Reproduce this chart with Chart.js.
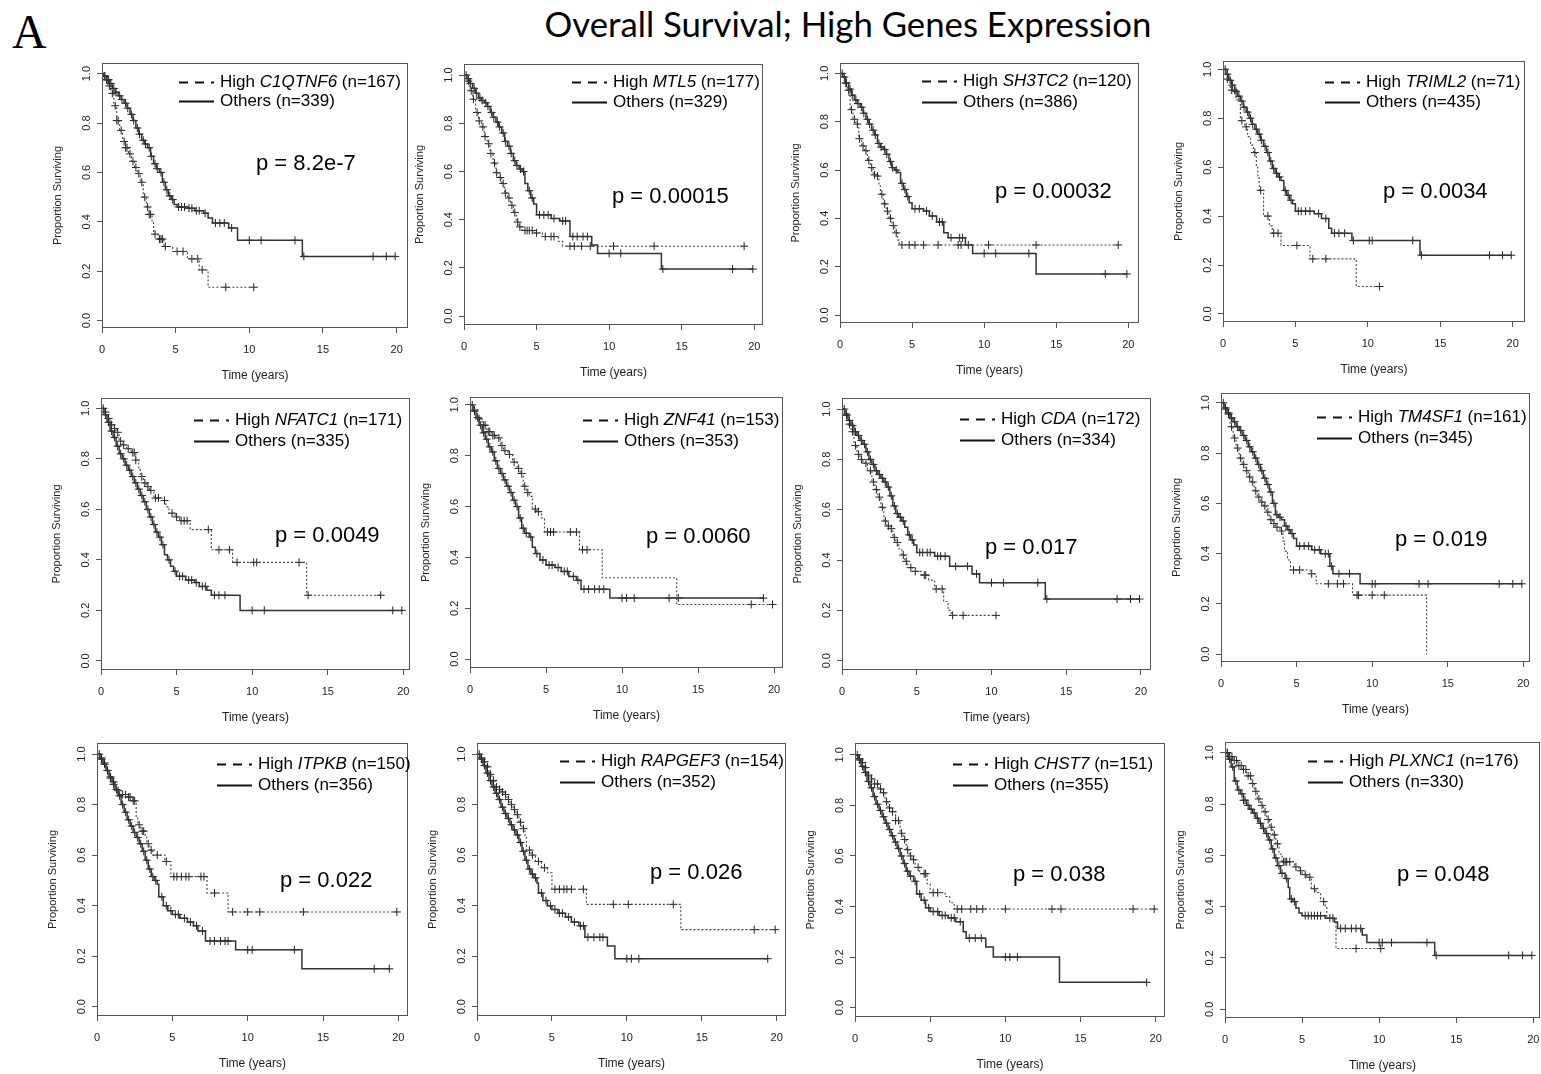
<!DOCTYPE html>
<html lang="en">
<head>
<meta charset="utf-8">
<title>Overall Survival; High Genes Expression</title>
<script src="https://cdn.jsdelivr.net/npm/chart.js@4.4.1/dist/chart.umd.min.js"></script>
<style>
  html, body { margin: 0; padding: 0; background: #fff; }
  body { position: relative; width: 1541px; height: 1074px; overflow: hidden; }
  #panelLetter { position: absolute; left: 12px; top: 8px; font-family: "Liberation Serif", "Times New Roman", serif; font-size: 48px; line-height: 48px; color: #000; }
  #mainTitle { position: absolute; left: 348px; width: 1000px; top: 4px; text-align: center; font-family: Lato, "Open Sans", sans-serif; font-size: 32px; line-height: 40px; color: #000; white-space: nowrap; }
  .panel { position: absolute; }
  .panel canvas { display: block; }
</style>
</head>
<body>
<div id="panelLetter">A</div>
<div id="mainTitle"><span id="titleText">Overall Survival; High Genes Expression</span></div>
<script>
// ---- Kaplan-Meier estimates: [time (years), survival after the event], censoring times ----
const genes    = ['C1QTNF6', 'MTL5', 'SH3TC2', 'TRIML2', 'NFATC1', 'ZNF41', 'CDA', 'TM4SF1', 'ITPKB', 'RAPGEF3', 'CHST7', 'PLXNC1'];
const nHigh    = [167, 177, 120, 71, 171, 153, 172, 161, 150, 154, 151, 176];
const nOthers  = [339, 329, 386, 435, 335, 353, 334, 345, 356, 352, 355, 330];
const pValues  = ['8.2e-7', '0.00015', '0.00032', '0.0034', '0.0049', '0.0060', '0.017', '0.019', '0.022', '0.026', '0.038', '0.048'];
const xTicks   = [0, 5, 10, 15, 20];
const yTicks   = [0, 0.2, 0.4, 0.6, 0.8, 1.0];

const c1qtnf6HighEvents = [[0.2,.975],[0.4,.95],[0.6,.92],[0.8,.87],[1.0,.81],[1.2,.77],[1.4,.725],[1.6,.70],[1.8,.675],[2.0,.645],[2.2,.62],[2.4,.595],[2.6,.56],[2.8,.50],[3.0,.46],[3.2,.43],[3.4,.40],[3.5,.35],[3.8,.33],[4.2,.30],[4.8,.28],[5.8,.25],[6.6,.205],[7.2,.135]];
const c1qtnf6HighCens   = [0.3,0.5,0.7,0.9,1.0,1.1,1.3,1.5,1.6,1.7,1.9,2.1,2.3,2.5,2.7,2.9,3.1,3.2,3.3,3.6,3.9,4.0,4.1,4.3,5.1,5.5,6.1,6.5,6.8,8.4,10.3];
const c1qtnf6OthEvents  = [[0.1,.99],[0.3,.975],[0.5,.96],[0.7,.94],[0.9,.925],[1.1,.91],[1.3,.895],[1.5,.88],[1.7,.86],[1.9,.835],[2.1,.81],[2.3,.78],[2.5,.755],[2.7,.73],[2.9,.715],[3.1,.70],[3.3,.665],[3.5,.635],[3.7,.615],[3.9,.60],[4.1,.56],[4.3,.53],[4.5,.505],[4.7,.49],[4.9,.47],[5.1,.46],[5.8,.455],[6.3,.445],[6.9,.435],[7.2,.415],[7.5,.395],[8.6,.375],[9.2,.325],[13.6,.26]];
const c1qtnf6OthCens    = [0.15,0.2,0.35,0.45,0.6,0.8,0.95,1.2,1.35,1.6,1.75,2.0,2.15,2.4,2.55,2.8,2.95,3.2,3.35,3.6,3.75,4.0,4.2,4.4,4.6,4.8,5.2,5.4,5.6,5.9,6.1,6.4,6.6,7.0,7.7,8.0,8.3,8.8,10.0,10.8,13.1,13.7,18.4,19.3,19.9];

const mtl5HighEvents = [[0.2,.975],[0.4,.935],[0.6,.90],[0.8,.845],[1.0,.81],[1.2,.785],[1.4,.745],[1.6,.715],[1.8,.675],[2.0,.635],[2.2,.595],[2.4,.575],[2.6,.55],[2.8,.51],[3.0,.49],[3.2,.46],[3.4,.43],[3.6,.39],[3.8,.37],[4.0,.355],[4.8,.345],[5.4,.33],[6.5,.31],[6.8,.29]];
const mtl5HighCens   = [0.3,0.5,0.65,0.9,1.05,1.3,1.45,1.7,1.85,2.1,2.25,2.5,2.7,2.85,3.1,3.3,3.5,3.7,3.85,4.2,4.35,4.5,4.7,5.0,5.6,6.0,6.2,7.3,7.6,8.1,8.7,10.3,13.1,19.3];
const mtl5OthEvents  = [[0.2,.985],[0.4,.965],[0.6,.945],[0.8,.925],[1.0,.905],[1.2,.895],[1.4,.885],[1.6,.87],[1.8,.845],[2.0,.825],[2.2,.805],[2.4,.785],[2.6,.76],[2.8,.725],[3.0,.705],[3.2,.675],[3.4,.645],[3.6,.625],[3.8,.61],[4.0,.60],[4.2,.55],[4.4,.52],[4.6,.49],[4.8,.465],[5.0,.42],[6.0,.405],[6.6,.395],[7.3,.33],[8.8,.295],[9.2,.26],[13.6,.195]];
const mtl5OthCens    = [0.15,0.3,0.45,0.7,0.85,1.1,1.25,1.5,1.65,1.9,2.05,2.3,2.45,2.7,2.85,3.1,3.25,3.5,3.65,3.9,4.1,4.5,4.7,5.2,5.5,5.8,6.2,6.8,7.0,7.5,7.8,8.2,8.5,10.0,10.8,13.7,18.5,19.9];

const sh3tc2HighEvents = [[0.3,.96],[0.5,.93],[0.7,.85],[0.9,.81],[1.1,.79],[1.3,.73],[1.5,.70],[1.7,.68],[1.9,.64],[2.1,.61],[2.3,.58],[2.5,.575],[2.7,.535],[2.8,.50],[3.0,.46],[3.2,.43],[3.4,.40],[3.6,.37],[3.8,.34],[4.0,.31],[4.1,.29]];
const sh3tc2HighCens   = [0.4,0.6,0.8,1.0,1.2,1.35,1.6,1.8,2.0,2.2,2.4,2.6,2.9,3.1,3.3,3.5,3.7,3.9,4.3,4.8,5.2,5.8,6.8,8.2,8.4,8.9,10.3,13.6,19.3];
const sh3tc2OthEvents  = [[0.2,.985],[0.4,.96],[0.6,.935],[0.8,.91],[1.0,.89],[1.2,.875],[1.4,.86],[1.6,.835],[1.8,.81],[2.0,.79],[2.2,.765],[2.4,.745],[2.6,.71],[2.8,.695],[3.0,.685],[3.2,.665],[3.4,.635],[3.6,.61],[3.8,.60],[4.0,.59],[4.2,.545],[4.4,.52],[4.6,.49],[4.8,.465],[5.0,.44],[5.8,.43],[6.2,.41],[6.7,.385],[7.2,.34],[7.5,.32],[8.7,.29],[9.2,.255],[13.6,.17]];
const sh3tc2OthCens    = [0.15,0.3,0.45,0.7,0.85,1.1,1.25,1.5,1.65,1.9,2.05,2.3,2.45,2.7,2.85,3.1,3.25,3.5,3.65,3.9,4.3,4.5,4.7,5.2,5.5,6.0,6.4,6.9,7.1,7.7,8.3,8.5,10.0,10.8,13.1,18.4,19.9];

const triml2HighEvents = [[0.3,.96],[0.5,.915],[0.9,.875],[1.2,.79],[1.5,.765],[1.7,.725],[1.9,.69],[2.1,.66],[2.3,.60],[2.4,.555],[2.5,.505],[2.8,.40],[3.2,.36],[3.4,.33],[4.0,.28],[6.0,.225],[9.2,.112]];
const triml2HighCens   = [0.3,0.6,0.8,1.3,1.6,2.2,2.6,3.1,3.5,3.8,5.1,6.2,7.1,10.8];
const triml2OthEvents  = [[0.2,.98],[0.4,.955],[0.6,.935],[0.8,.91],[1.0,.89],[1.2,.87],[1.4,.845],[1.6,.825],[1.8,.80],[2.0,.775],[2.2,.755],[2.4,.735],[2.6,.71],[2.8,.685],[3.0,.66],[3.2,.625],[3.4,.595],[3.6,.575],[3.8,.56],[4.0,.545],[4.2,.505],[4.4,.485],[4.6,.465],[4.8,.45],[5.0,.42],[6.3,.41],[6.8,.39],[7.3,.35],[7.5,.33],[8.9,.30],[13.6,.24]];
const triml2OthCens    = [0.15,0.3,0.5,0.65,0.9,1.1,1.3,1.45,1.7,1.9,2.05,2.3,2.5,2.65,2.9,3.1,3.3,3.5,3.7,3.9,4.3,4.5,4.7,5.2,5.4,5.7,6.0,6.6,7.1,7.7,8.0,8.4,9.0,10.1,10.3,13.1,13.7,18.4,19.3,19.9];

const nfatc1HighEvents = [[0.2,.985],[0.4,.96],[0.6,.935],[0.8,.92],[1.0,.905],[1.2,.87],[1.4,.855],[1.7,.84],[2.0,.825],[2.3,.795],[2.5,.76],[2.6,.73],[2.8,.705],[3.0,.69],[3.2,.675],[3.5,.645],[4.0,.635],[4.3,.61],[4.5,.585],[4.9,.57],[5.2,.555],[5.9,.52],[7.3,.44],[8.7,.39],[13.6,.26]];
const nfatc1HighCens   = [0.3,0.5,0.7,0.9,1.1,1.3,1.5,1.8,2.1,2.2,2.3,2.7,2.9,3.1,3.3,3.6,3.8,4.2,4.7,5.0,5.3,5.5,5.7,7.1,7.8,8.5,9.0,10.1,10.3,13.1,13.7,18.5];
const nfatc1OthEvents  = [[0.2,.975],[0.4,.945],[0.6,.91],[0.8,.885],[1.0,.85],[1.2,.82],[1.4,.80],[1.6,.775],[1.8,.755],[2.0,.73],[2.2,.705],[2.4,.68],[2.6,.655],[2.8,.63],[3.0,.60],[3.2,.57],[3.4,.54],[3.6,.51],[3.8,.49],[4.0,.46],[4.2,.42],[4.4,.40],[4.6,.375],[4.8,.355],[5.0,.335],[5.6,.32],[6.2,.31],[6.5,.295],[7.0,.28],[7.3,.26],[9.2,.20]];
const nfatc1OthCens    = [0.15,0.3,0.5,0.7,0.9,1.1,1.3,1.5,1.7,1.9,2.1,2.3,2.5,2.7,2.9,3.1,3.3,3.5,3.7,3.9,4.1,4.5,4.9,5.2,5.4,5.8,6.0,6.3,6.7,6.9,7.5,7.8,8.2,10.0,10.8,19.3,19.9];

const znf41HighEvents = [[0.2,.98],[0.5,.945],[0.8,.92],[1.1,.895],[1.4,.88],[1.7,.87],[2.0,.84],[2.2,.82],[2.5,.805],[2.8,.775],[3.1,.75],[3.3,.73],[3.5,.68],[3.7,.655],[3.9,.64],[4.1,.59],[4.4,.58],[4.7,.555],[4.9,.50],[7.2,.43],[8.7,.32],[13.6,.215]];
const znf41HighCens   = [0.3,0.6,0.9,1.0,1.2,1.3,1.5,1.6,1.9,2.1,2.3,2.6,2.9,3.2,3.4,3.6,3.8,4.3,4.5,5.1,5.3,5.5,6.6,7.0,7.4,7.7,18.5,19.9];
const znf41OthEvents  = [[0.2,.975],[0.4,.95],[0.6,.92],[0.8,.89],[1.0,.865],[1.2,.835],[1.4,.815],[1.6,.78],[1.8,.75],[2.0,.73],[2.2,.705],[2.4,.68],[2.6,.655],[2.8,.625],[3.0,.60],[3.2,.555],[3.4,.515],[3.6,.495],[3.9,.48],[4.1,.44],[4.3,.415],[4.6,.39],[5.0,.37],[5.6,.36],[6.0,.345],[6.5,.325],[7.0,.31],[7.3,.275],[9.2,.24]];
const znf41OthCens    = [0.15,0.3,0.5,0.7,0.9,1.1,1.3,1.5,1.7,1.9,2.1,2.3,2.5,2.7,2.9,3.1,3.3,3.5,3.7,4.0,4.4,4.8,5.2,5.4,5.8,6.2,6.4,6.8,7.1,7.5,7.8,8.2,8.5,8.8,10.0,10.3,10.8,13.1,13.7,19.3];

const cdaHighEvents = [[0.2,.975],[0.4,.94],[0.6,.91],[0.8,.855],[1.0,.82],[1.2,.80],[1.4,.785],[1.7,.755],[2.0,.71],[2.2,.68],[2.4,.65],[2.6,.61],[2.8,.555],[3.0,.535],[3.2,.525],[3.4,.49],[3.6,.47],[3.8,.445],[4.0,.42],[4.2,.395],[4.4,.37],[4.7,.355],[5.3,.34],[5.8,.32],[6.2,.285],[6.8,.235],[7.1,.20],[7.3,.18]];
const cdaHighCens   = [0.3,0.5,0.7,0.9,1.1,1.3,1.6,1.9,2.1,2.3,2.5,2.7,2.9,3.1,3.3,3.5,3.7,4.1,4.3,4.6,4.9,5.5,5.6,6.3,6.7,7.4,8.1,10.3];
const cdaOthEvents  = [[0.2,.98],[0.4,.955],[0.6,.935],[0.8,.91],[1.0,.895],[1.2,.875],[1.4,.86],[1.6,.83],[1.8,.80],[2.0,.78],[2.2,.755],[2.4,.74],[2.6,.725],[2.8,.71],[3.0,.69],[3.2,.655],[3.4,.615],[3.6,.585],[3.8,.57],[4.0,.555],[4.2,.53],[4.4,.50],[4.6,.48],[4.8,.46],[5.0,.43],[6.2,.415],[7.2,.375],[8.7,.345],[9.2,.31],[13.6,.245]];
const cdaOthCens    = [0.15,0.3,0.5,0.7,0.9,1.1,1.3,1.5,1.7,1.9,2.1,2.3,2.5,2.7,2.9,3.1,3.3,3.5,3.7,3.9,4.1,4.5,4.7,5.2,5.4,5.7,5.9,6.4,6.6,6.9,7.6,8.4,9.0,10.0,10.8,13.1,13.7,18.4,19.3,19.9];

const tm4sf1HighEvents = [[0.2,.975],[0.4,.955],[0.6,.905],[0.8,.86],[1.0,.82],[1.2,.78],[1.4,.755],[1.6,.73],[1.8,.705],[2.0,.685],[2.2,.65],[2.4,.625],[2.6,.605],[2.8,.59],[3.0,.565],[3.2,.535],[3.4,.52],[3.6,.505],[3.9,.49],[4.1,.45],[4.2,.41],[4.4,.375],[4.6,.335],[5.9,.32],[6.2,.31],[6.3,.28],[8.7,.235],[13.6,0]];
const tm4sf1HighCens   = [0.3,0.5,0.7,0.9,1.1,1.3,1.5,1.7,1.9,2.1,2.3,2.5,2.7,2.9,3.1,3.3,3.5,3.7,4.0,4.8,5.2,6.0,7.1,7.7,8.1,9.0,9.1,10.0,10.8];
const tm4sf1OthEvents  = [[0.2,.98],[0.4,.96],[0.6,.94],[0.8,.925],[1.0,.905],[1.2,.89],[1.4,.87],[1.6,.85],[1.8,.825],[2.0,.805],[2.2,.78],[2.4,.755],[2.6,.73],[2.8,.70],[3.0,.675],[3.2,.645],[3.4,.60],[3.6,.555],[3.8,.545],[4.0,.535],[4.2,.51],[4.4,.495],[4.6,.48],[4.8,.46],[5.0,.43],[6.0,.415],[6.6,.40],[7.2,.35],[7.4,.32],[9.2,.28]];
const tm4sf1OthCens    = [0.15,0.3,0.5,0.7,0.9,1.1,1.3,1.5,1.7,1.9,2.1,2.3,2.5,2.7,2.9,3.1,3.3,3.5,3.7,3.9,4.3,4.5,4.7,5.2,5.5,5.8,6.2,6.5,6.9,7.1,7.3,7.8,8.5,10.0,10.2,13.1,13.7,18.4,19.3,19.9];

const itpkbHighEvents = [[0.2,.985],[0.4,.965],[0.6,.935],[0.8,.905],[1.0,.88],[1.2,.855],[1.5,.84],[2.0,.83],[2.4,.815],[2.6,.75],[2.7,.72],[2.9,.695],[3.2,.675],[3.3,.645],[3.5,.62],[3.7,.60],[4.5,.575],[4.9,.515],[7.3,.45],[8.7,.375]];
const itpkbHighCens   = [0.3,0.5,0.7,0.9,1.1,1.4,1.7,1.9,2.1,2.2,2.4,2.5,2.8,3.0,3.1,3.4,3.6,4.0,4.6,5.1,5.3,5.6,5.9,6.1,6.9,7.1,7.8,9.0,10.0,10.8,13.7,19.9];
const itpkbOthEvents  = [[0.2,.98],[0.4,.96],[0.6,.935],[0.8,.91],[1.0,.89],[1.2,.86],[1.4,.835],[1.6,.80],[1.8,.77],[2.0,.74],[2.2,.715],[2.4,.69],[2.6,.67],[2.8,.645],[3.0,.615],[3.2,.58],[3.4,.545],[3.6,.515],[3.8,.50],[4.0,.485],[4.1,.435],[4.4,.40],[4.7,.38],[5.0,.365],[5.5,.35],[6.0,.335],[6.4,.32],[6.7,.30],[7.2,.26],[9.2,.225],[13.6,.15]];
const itpkbOthCens    = [0.15,0.3,0.5,0.7,0.9,1.1,1.3,1.5,1.7,1.9,2.1,2.3,2.5,2.7,2.9,3.1,3.3,3.5,3.7,3.9,4.3,4.6,4.9,5.2,5.4,5.8,6.2,6.6,7.0,7.5,7.8,8.2,8.5,8.7,10.0,10.3,13.1,18.4,19.4];

const rapgef3HighEvents = [[0.2,.985],[0.4,.97],[0.6,.95],[0.8,.92],[1.0,.895],[1.2,.87],[1.4,.86],[1.6,.85],[1.8,.84],[2.0,.82],[2.2,.80],[2.4,.78],[2.6,.76],[2.8,.73],[3.0,.705],[3.2,.675],[3.3,.62],[3.6,.60],[3.9,.575],[4.3,.55],[4.7,.53],[5.0,.465],[7.3,.405],[13.6,.305]];
const rapgef3HighCens   = [0.3,0.5,0.7,0.9,1.1,1.3,1.5,1.7,1.9,2.1,2.3,2.5,2.7,2.9,3.1,3.5,3.7,4.1,4.5,5.2,5.5,5.8,6.0,6.3,7.1,9.1,10.1,13.1,18.5,19.9];
const rapgef3OthEvents  = [[0.2,.98],[0.4,.955],[0.6,.925],[0.8,.895],[1.0,.87],[1.2,.845],[1.4,.82],[1.6,.79],[1.8,.765],[2.0,.745],[2.2,.72],[2.4,.70],[2.6,.68],[2.8,.65],[3.0,.615],[3.2,.58],[3.4,.545],[3.6,.525],[3.8,.51],[4.0,.49],[4.1,.45],[4.4,.42],[4.7,.40],[5.0,.385],[5.4,.37],[5.9,.355],[6.3,.335],[6.8,.32],[7.2,.275],[8.7,.24],[9.2,.19]];
const rapgef3OthCens    = [0.15,0.3,0.5,0.7,0.9,1.1,1.3,1.5,1.7,1.9,2.1,2.3,2.5,2.7,2.9,3.1,3.3,3.5,3.7,3.9,4.3,4.6,4.9,5.2,5.5,5.7,6.1,6.5,6.9,7.1,7.4,7.8,8.2,8.4,10.0,10.3,10.8,19.4];

const chst7HighEvents = [[0.2,.985],[0.4,.97],[0.6,.95],[0.8,.92],[1.0,.905],[1.3,.885],[1.6,.865],[1.8,.85],[2.0,.815],[2.2,.79],[2.4,.775],[2.7,.74],[3.0,.69],[3.2,.665],[3.4,.625],[3.6,.60],[3.8,.585],[4.0,.555],[4.3,.53],[4.8,.49],[5.0,.455],[6.0,.44],[6.3,.415],[6.6,.39]];
const chst7HighCens   = [0.3,0.5,0.7,0.9,1.1,1.3,1.5,1.7,1.9,2.1,2.3,2.5,2.7,2.9,3.1,3.3,3.5,3.7,3.9,4.2,4.6,4.7,5.2,5.5,6.8,7.1,7.7,8.1,8.5,10.0,13.1,13.7,18.5,19.9];
const chst7OthEvents  = [[0.2,.98],[0.4,.955],[0.6,.93],[0.8,.895],[1.0,.87],[1.2,.835],[1.4,.805],[1.6,.78],[1.8,.755],[2.0,.73],[2.2,.705],[2.4,.68],[2.6,.655],[2.8,.63],[3.0,.60],[3.2,.57],[3.4,.54],[3.6,.52],[3.9,.50],[4.1,.45],[4.4,.425],[4.7,.395],[5.0,.38],[5.6,.365],[6.2,.355],[6.7,.34],[7.2,.30],[7.4,.275],[8.7,.24],[9.2,.20],[13.6,.10]];
const chst7OthCens    = [0.15,0.3,0.5,0.7,0.9,1.1,1.3,1.5,1.7,1.9,2.1,2.3,2.5,2.7,2.9,3.1,3.3,3.5,3.7,4.0,4.3,4.6,4.9,5.2,5.5,5.8,6.0,6.4,6.6,7.0,7.6,8.0,8.4,10.0,10.3,10.8,19.4];

const plxnc1HighEvents = [[0.2,.985],[0.5,.97],[0.8,.95],[1.1,.935],[1.4,.91],[1.7,.88],[1.9,.85],[2.1,.82],[2.3,.795],[2.5,.77],[2.7,.74],[2.9,.71],[3.1,.68],[3.3,.645],[3.5,.605],[3.7,.575],[4.5,.555],[4.8,.54],[5.0,.525],[5.3,.515],[5.6,.47],[5.9,.455],[6.2,.42],[6.5,.40],[6.6,.355],[7.2,.237]];
const plxnc1HighCens   = [0.15,0.3,0.45,0.6,0.75,0.9,1.05,1.2,1.35,1.5,1.65,1.8,2.0,2.2,2.4,2.6,2.8,3.0,3.2,3.4,3.8,3.9,4.0,4.2,4.6,4.9,5.2,5.5,5.8,6.4,8.5,10.1];
const plxnc1OthEvents  = [[0.2,.975],[0.4,.945],[0.6,.89],[0.8,.855],[1.0,.84],[1.2,.815],[1.4,.795],[1.6,.78],[1.8,.765],[2.0,.745],[2.2,.725],[2.4,.705],[2.6,.685],[2.8,.66],[3.0,.625],[3.2,.59],[3.4,.56],[3.6,.53],[3.9,.51],[4.1,.475],[4.2,.43],[4.4,.42],[4.6,.395],[4.8,.375],[5.0,.365],[6.5,.355],[7.1,.34],[7.3,.315],[8.9,.29],[9.2,.26],[13.6,.21]];
const plxnc1OthCens    = [0.15,0.3,0.5,0.7,0.9,1.1,1.2,1.3,1.5,1.7,1.9,2.1,2.3,2.5,2.7,2.9,3.1,3.3,3.5,3.7,4.0,4.3,4.5,5.2,5.4,5.6,5.8,6.0,6.2,6.8,7.0,7.5,7.8,8.2,8.5,8.8,10.0,10.2,10.8,13.1,13.7,18.4,19.3,19.9];

// ---- per-gene table used to build the charts ----
const curves = [
  [c1qtnf6HighEvents, c1qtnf6HighCens, c1qtnf6OthEvents, c1qtnf6OthCens],
  [mtl5HighEvents, mtl5HighCens, mtl5OthEvents, mtl5OthCens],
  [sh3tc2HighEvents, sh3tc2HighCens, sh3tc2OthEvents, sh3tc2OthCens],
  [triml2HighEvents, triml2HighCens, triml2OthEvents, triml2OthCens],
  [nfatc1HighEvents, nfatc1HighCens, nfatc1OthEvents, nfatc1OthCens],
  [znf41HighEvents, znf41HighCens, znf41OthEvents, znf41OthCens],
  [cdaHighEvents, cdaHighCens, cdaOthEvents, cdaOthCens],
  [tm4sf1HighEvents, tm4sf1HighCens, tm4sf1OthEvents, tm4sf1OthCens],
  [itpkbHighEvents, itpkbHighCens, itpkbOthEvents, itpkbOthCens],
  [rapgef3HighEvents, rapgef3HighCens, rapgef3OthEvents, rapgef3OthCens],
  [chst7HighEvents, chst7HighCens, chst7OthEvents, chst7OthCens],
  [plxnc1HighEvents, plxnc1HighCens, plxnc1OthEvents, plxnc1OthCens]
];

// ---- page layout: plot box (page px), axis ranges, legend and p-value anchors ----
const layout = [
  {l:102,  t:63,  r:408,  b:328,  xMax:20.77, yMin:-0.030, yMax:1.043, leg:[179, 82, 101],  pv:[256, 164]},
  {l:464,  t:64,  r:763,  b:325,  xMax:20.60, yMin:-0.037, yMax:1.046, leg:[572, 82, 102],  pv:[612, 197]},
  {l:840,  t:63,  r:1139, b:323,  xMax:20.74, yMin:-0.033, yMax:1.043, leg:[922, 81, 102],  pv:[995, 192]},
  {l:1223, t:61,  r:1525, b:322,  xMax:20.85, yMin:-0.033, yMax:1.034, leg:[1325, 82, 102], pv:[1383, 192]},
  {l:101,  t:398, r:410,  b:670,  xMax:20.44, yMin:-0.036, yMax:1.041, leg:[194, 420, 441], pv:[275, 536]},
  {l:470,  t:397, r:783,  b:668,  xMax:20.59, yMin:-0.035, yMax:1.031, leg:[583, 420, 441], pv:[646, 537]},
  {l:842,  t:398, r:1151, b:670,  xMax:20.67, yMin:-0.037, yMax:1.044, leg:[960, 419, 440], pv:[985, 548]},
  {l:1221, t:393, r:1530, b:662,  xMax:20.44, yMin:-0.031, yMax:1.039, leg:[1317, 417, 438], pv:[1395, 540]},
  {l:97,   t:743, r:408,  b:1016, xMax:20.64, yMin:-0.037, yMax:1.044, leg:[217, 764, 785], pv:[280, 881]},
  {l:477,  t:743, r:786,  b:1016, xMax:20.62, yMin:-0.037, yMax:1.044, leg:[560, 761, 782], pv:[650, 873]},
  {l:855,  t:743, r:1165, b:1017, xMax:20.62, yMin:-0.037, yMax:1.047, leg:[953, 764, 785], pv:[1013, 875]},
  {l:1225, t:742, r:1540, b:1018, xMax:20.43, yMin:-0.034, yMax:1.042, leg:[1308, 761, 782], pv:[1397, 875]}
];

const FONT = "'Liberation Sans', Arial, Helvetica, sans-serif";
const AXIS_COLOR = '#555';
const AXIS_W = 51, AXIS_H = 55, PAD_T = 10, PAD_R = 12;

// Fit the heading to its printed width.
(function () {
  const span = document.getElementById('titleText');
  const w = span.getBoundingClientRect().width;
  if (w > 0) span.parentNode.style.fontSize = (32 * 607 / w).toFixed(2) + 'px';
})();

// Survival level of a step curve at time t.
function survivalAt(events, t) {
  let s = 1;
  for (const [et, es] of events) { if (et <= t) s = es; else break; }
  return s;
}
// Step-line vertices: start at (0, 1), one vertex per event, extend to the last follow-up.
function stepPoints(events, cens) {
  const pts = [{x: 0, y: 1}];
  events.forEach(([t, s]) => pts.push({x: t, y: s}));
  const last = events[events.length - 1];
  const end = Math.max(last[0], ...cens);
  if (end > last[0]) pts.push({x: end, y: last[1]});
  return pts;
}
function censorPoints(events, cens) {
  return cens.map(t => ({x: t, y: survivalAt(events, t)}));
}

// Box, legend and p-value drawn over each panel.
const kmDecor = {
  id: 'kmDecor',
  afterDraw(chart, args, o) {
    const {ctx, chartArea: a} = chart;
    ctx.save();
    ctx.strokeStyle = AXIS_COLOR;
    ctx.lineWidth = 1;
    ctx.setLineDash([]);
    ctx.strokeRect(Math.round(a.left) + 0.5, Math.round(a.top) + 0.5,
                   Math.round(a.right - a.left) - 1, Math.round(a.bottom - a.top) - 1);

    const sx = o.leg[0] - o.ox, y1 = o.leg[1] - o.oy, y2 = o.leg[2] - o.oy;
    ctx.strokeStyle = '#111';
    ctx.lineWidth = 2;
    ctx.setLineDash([9, 7]);
    ctx.beginPath(); ctx.moveTo(sx, y1 + 0.5); ctx.lineTo(sx + 35, y1 + 0.5); ctx.stroke();
    ctx.setLineDash([]);
    ctx.beginPath(); ctx.moveTo(sx, y2 + 0.5); ctx.lineTo(sx + 35, y2 + 0.5); ctx.stroke();

    ctx.fillStyle = '#000';
    ctx.textBaseline = 'middle';
    ctx.textAlign = 'left';
    let tx = sx + 41;
    ctx.font = '17px ' + FONT;
    ctx.fillText('High ', tx, y1); tx += ctx.measureText('High ').width;
    ctx.font = 'italic 17px ' + FONT;
    ctx.fillText(o.gene, tx, y1); tx += ctx.measureText(o.gene).width;
    ctx.font = '17px ' + FONT;
    ctx.fillText(' (n=' + o.nH + ')', tx, y1);
    ctx.fillText('Others (n=' + o.nO + ')', sx + 41, y2);

    ctx.font = '22px ' + FONT;
    ctx.fillText('p = ' + o.p, o.pv[0] - o.ox, o.pv[1] - o.oy);
    ctx.restore();
  }
};

function axisGrid() {
  return { display: true, drawOnChartArea: false, drawTicks: true, tickLength: 5,
           tickColor: AXIS_COLOR, tickWidth: 1, lineWidth: 1, color: AXIS_COLOR };
}

layout.forEach((L, i) => {
  const [hEv, hCens, oEv, oCens] = curves[i];
  const w = L.r - L.l + AXIS_W + PAD_R;
  const h = L.b - L.t + PAD_T + AXIS_H;
  const ox = L.l - AXIS_W, oy = L.t - PAD_T;

  const div = document.createElement('div');
  div.className = 'panel';
  Object.assign(div.style, {left: ox + 'px', top: oy + 'px', width: w + 'px', height: h + 'px'});
  const cv = document.createElement('canvas');
  cv.width = w; cv.height = h;
  cv.style.width = w + 'px'; cv.style.height = h + 'px';
  div.appendChild(cv);
  document.body.appendChild(div);

  new Chart(cv, {
    type: 'scatter',
    data: {
      datasets: [
        { label: 'High ' + genes[i], data: stepPoints(hEv, hCens), showLine: true, stepped: true,
          borderColor: '#444', borderWidth: 1.1, borderDash: [2, 2], pointRadius: 0, fill: false },
        { label: 'Others', data: stepPoints(oEv, oCens), showLine: true, stepped: true,
          borderColor: '#333', borderWidth: 1.5, pointRadius: 0, fill: false },
        { label: 'High censored', data: censorPoints(hEv, hCens), showLine: false,
          pointStyle: 'cross', pointRadius: 4, borderColor: '#222', borderWidth: 1 },
        { label: 'Others censored', data: censorPoints(oEv, oCens), showLine: false,
          pointStyle: 'cross', pointRadius: 4, borderColor: '#222', borderWidth: 1 }
      ]
    },
    options: {
      responsive: false,
      animation: false,
      devicePixelRatio: 1,
      events: [],
      layout: { padding: { left: 0, top: PAD_T, right: PAD_R, bottom: 0 } },
      plugins: {
        legend: { display: false },
        tooltip: { enabled: false },
        kmDecor: { gene: genes[i], nH: nHigh[i], nO: nOthers[i], p: pValues[i],
                   leg: L.leg, pv: L.pv, ox, oy }
      },
      scales: {
        x: {
          type: 'linear', position: 'bottom', min: 0, max: L.xMax,
          afterBuildTicks: s => { s.ticks = xTicks.map(v => ({value: v})); },
          afterFit: s => { s.height = AXIS_H; },
          grid: axisGrid(),
          border: { display: false },
          ticks: { color: '#222', font: { family: FONT, size: 11 }, padding: 10,
                   maxRotation: 0, autoSkip: false, callback: v => String(v) },
          title: { display: true, text: 'Time (years)', color: '#222',
                   font: { family: FONT, size: 12 }, padding: { top: 0, bottom: 0 } }
        },
        y: {
          type: 'linear', position: 'left', min: L.yMin, max: L.yMax,
          afterBuildTicks: s => { s.ticks = yTicks.map(v => ({value: v})); },
          afterFit: s => { s.width = AXIS_W; },
          grid: axisGrid(),
          border: { display: false },
          ticks: { color: '#222', font: { family: FONT, size: 11 }, padding: 2.4,
                   minRotation: 90, maxRotation: 90, crossAlign: 'center', autoSkip: false,
                   callback: v => Number(v).toFixed(1) },
          title: { display: true, text: 'Proportion Surviving', color: '#222',
                   font: { family: FONT, size: 11 }, padding: { top: 0, bottom: 0 } }
        }
      }
    },
    plugins: [kmDecor]
  });
});
</script>
</body>
</html>
